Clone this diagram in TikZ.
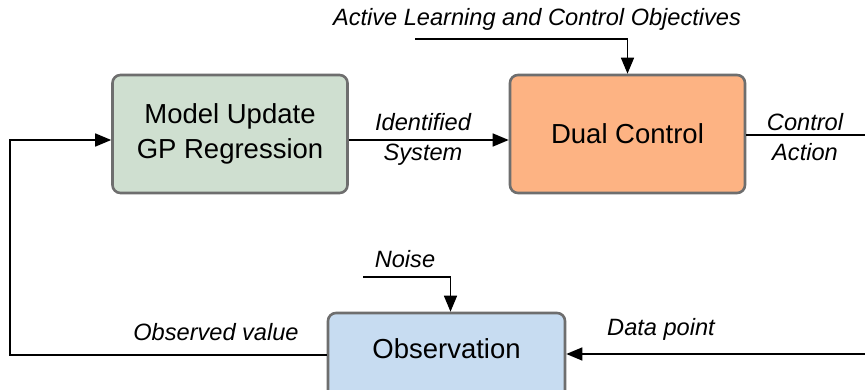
\documentclass[tikz,border=0pt]{standalone}
\usepackage{fontspec}
\setmainfont{Liberation Sans}
\usetikzlibrary{arrows.meta,calc}
\definecolor{gfill}{HTML}{CFDFD0}
\definecolor{ofill}{HTML}{FDB383}
\definecolor{bfill}{HTML}{C7DCF1}
\definecolor{bord}{HTML}{6E6E6E}
\tikzset{
  blockbox/.style={draw=bord, line width=2.6pt, rounded corners=8pt, minimum width=235pt, minimum height=118pt, align=center, inner sep=0pt, font=\fontsize{27.5}{35}\selectfont},
  lbl/.style={font=\fontsize{23.6}{30}\itshape, align=center, inner sep=0pt},
  conn/.style={line width=1.5pt, draw=black},
  arr/.style={conn, -{Triangle[length=16pt,width=13pt]}}
}
\begin{document}
\begin{tikzpicture}[x=1pt,y=-1pt]
\useasboundingbox (0,0) rectangle (865,390);
\clip (0,0) rectangle (865,390);
\fill[white] (0,0) rectangle (865,390);
% blocks
\node[blockbox, fill=gfill] (model) at (230,134) {Model Update\\GP Regression};
\node[blockbox, fill=ofill] (dual) at (627.5,134) {Dual Control};
\node[blockbox, fill=bfill, minimum width=237pt] (obs) at (446.5,372) {};
\node[font=\fontsize{27.5}{35}\selectfont, inner sep=0pt] (obstext) at (446.5,349) {Observation};
% labels
\node[lbl] (idsys) at (423,139) {Identified\\System};
\node[lbl] (ctrlact) at (805,137) {Control\\Action};
\node[lbl] (alco) at (537,19) {Active Learning and Control Objectives};
\node[lbl] (noise) at (405,259) {Noise};
\node[lbl] (datapt) at (661,329) {Data point};
\node[lbl] (obsval) at (216,332) {Observed value};
% free ends
\coordinate (alcoStart) at (415,39);
\coordinate (noiseStart) at (363,277);
\coordinate (ctrlEnd) at (865,135);
\coordinate (dataStart) at (865,354);
\coordinate (fbCorner) at (10,355);
% connectors
\draw[arr] ($(model.east)+(0,6)$) -- ($(dual.west)+(0,6)$);
\draw[arr] (alcoStart) -| (dual.north);
\draw[conn] ($(dual.east)+(0,1)$) -- (ctrlEnd);
\draw[arr] (noiseStart) -| ($(obs.north)+(4,0)$);
\draw[arr] (dataStart) -- (obs.east |- dataStart);
\draw[arr] (obs.west |- fbCorner) -- (fbCorner) |- ($(model.west)+(0,6)$);
\end{tikzpicture}
\end{document}
